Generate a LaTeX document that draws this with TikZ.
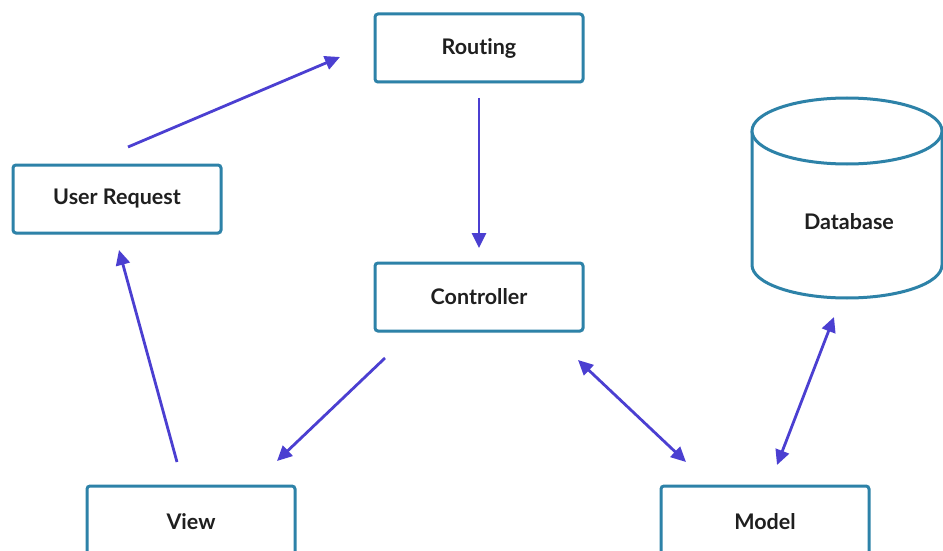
\documentclass[tikz,border=0pt]{standalone}
\usepackage{fontspec}
\setmainfont{Lato}[Ligatures={NoCommon,NoRare,NoDiscretionary}]
\usetikzlibrary{arrows.meta,shadows,calc}
\definecolor{boxc}{HTML}{2D82A8}
\definecolor{arrc}{HTML}{4B3FD1}
\tikzset{
  lbl/.style={font=\fontsize{21.5}{23}\selectfont\bfseries, text=black!88},
  box/.style={draw=boxc, line width=3pt, rounded corners=3pt, fill=white,
    minimum width=208pt, minimum height=68pt,
    drop shadow={shadow xshift=0pt, shadow yshift=-2pt, opacity=0.12, fill=gray},
    lbl},
  conn/.style={draw=arrc, line width=2.8pt, -{Triangle[length=15pt,width=14pt]}},
  conn2/.style={draw=arrc, line width=2.8pt, {Triangle[length=15pt,width=14pt]}-{Triangle[length=15pt,width=14pt]}}
}
\begin{document}
\begin{tikzpicture}[x=1pt,y=-1pt]
\useasboundingbox (0,0) rectangle (943,551);
\begin{scope}
\clip (0,0) rectangle (943,551);
\node[box] (routing) at (479,48) {Routing};
\node[box] (user) at (117,199) {User Request};
\node[box] (ctrl) at (479,297) {Controller};
\node[box, minimum height=90pt] (view) at (191,531) {};
\node[box, minimum height=90pt] (model) at (765,531) {};
\node[lbl] (viewt) at (191,522) {View};
\node[lbl] (modelt) at (765,522) {Model};
% database cylinder
\draw[draw=boxc, line width=3pt, fill=white] (752,131) -- (752,265) arc[start angle=180, end angle=360, x radius=95, y radius=-33] -- (942,131);
\draw[draw=boxc, line width=3pt, fill=white] (847,131) ellipse[x radius=95, y radius=33];
\node[lbl] (db) at (849,222) {Database};
\end{scope}
% connector end points
\coordinate (a1) at (128,147); \coordinate (b1) at (340,57);
\coordinate (a2) at (479,98);  \coordinate (b2) at (479,248);
\coordinate (a3) at (385,358); \coordinate (b3) at (277,461);
\coordinate (a4) at (177,462); \coordinate (b4) at (119,250);
\coordinate (a5) at (578,360); \coordinate (b5) at (686,462);
\coordinate (a6) at (777,465); \coordinate (b6) at (834,317);
\draw[conn] (a1) -- (b1);
\draw[conn] (a2) -- (b2);
\draw[conn] (a3) -- (b3);
\draw[conn] (a4) -- (b4);
\draw[conn2] (a5) -- (b5);
\draw[conn2] (a6) -- (b6);
\end{tikzpicture}
\end{document}
